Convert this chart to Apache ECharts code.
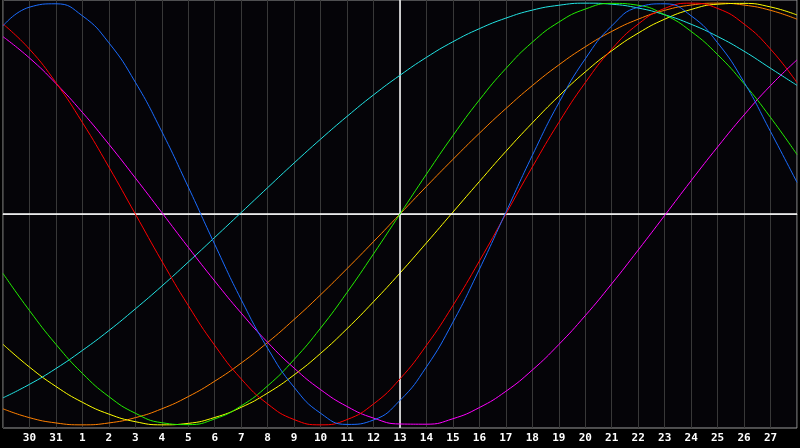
<!DOCTYPE html>
<html>
<head>
<meta charset="utf-8">
<script src="https://cdn.jsdelivr.net/npm/echarts@6/dist/echarts.min.js"></script>
<style>
html,body{margin:0;padding:0;background:#000;}
#chart{width:800px;height:448px;}
</style>
</head>
<body>
<div id="chart"></div>
<script>
// Day labels (first and last are at the plot edges and not labelled)
var days = ['29','30','31','1','2','3','4','5','6','7','8','9','10','11','12','13','14','15','16','17','18','19','20','21','22','23','24','25','26','27','28'];
var today = '13';

// Cycle values (-100..100) read at each day
var physical = [89.2,98.1,99.7,94.0,81.2,62.5,39.1,12.8,-14.4,-40.6,-63.7,-82.2,-94.5,-99.8,-97.7,-88.4,-72.5,-51.3,-26.2,0.8,27.8,52.7,73.6,89.2,98.1,99.7,94.0,81.2,62.5,39.1,15.0];
var emotional = [90.1,78.2,62.3,43.4,22.3,0,-22.3,-43.4,-62.3,-78.2,-90.1,-97.5,-100,-97.5,-90.1,-78.2,-62.3,-43.4,-22.3,0,22.3,43.4,62.3,78.2,90.1,97.5,100,97.5,90.1,78.2,62.3];
var intuitive = [84.1,74.0,61.9,48.2,33.1,17.1,0.7,-15.8,-31.8,-47.0,-60.9,-73.1,-83.3,-91.3,-96.8,-99.6,-99.7,-97.1,-91.8,-84.1,-74.0,-61.9,-48.2,-33.1,-17.1,-0.7,15.8,31.8,47.0,60.9,73.1];
var intellectual = [-28.2,-45.8,-61.8,-75.6,-86.6,-94.5,-99.0,-99.9,-97.2,-91.0,-81.5,-69.0,-54.1,-37.2,-18.9,0,18.9,37.2,54.1,69.0,81.5,91.0,97.2,99.9,99.0,94.5,86.6,75.6,61.8,45.8,28.2];
var spiritual = [-87.2,-80.8,-73.3,-64.7,-55.3,-45.0,-34.2,-22.8,-11.1,0.7,12.5,24.2,35.5,46.3,56.5,65.8,74.3,81.7,87.9,92.9,96.7,99.0,100,99.5,97.7,94.5,90.0,84.2,77.2,69.1,61.0];
var awareness = [-92.4,-96.6,-99.1,-100,-99.1,-96.6,-92.4,-86.6,-79.3,-70.7,-60.9,-50,-38.3,-25.9,-13.1,0,13.1,25.9,38.3,50,60.9,70.7,79.3,86.6,92.4,96.6,99.1,100,99.1,96.6,92.4];
var aesthetic = [-61.8,-72.6,-81.8,-89.3,-94.9,-98.5,-100,-99.3,-96.5,-91.7,-84.9,-76.3,-66.1,-54.4,-41.6,-28.0,-13.7,0.9,15.4,29.7,43.2,55.9,67.4,77.4,85.8,92.4,97.0,99.5,99.9,98.2,94.4];

var seriesDefs = [
  {name:'Awareness', data: awareness, color:'#ff8000'},
  {name:'Aesthetic', data: aesthetic, color:'#ffff00'},
  {name:'Spiritual', data: spiritual, color:'#22e4e4'},
  {name:'Intuitive', data: intuitive, color:'#ff00ff'},
  {name:'Intellectual', data: intellectual, color:'#22ee00'},
  {name:'Emotional', data: emotional, color:'#ff0000'},
  {name:'Physical', data: physical, color:'#1a6cff'}
];

var chart = echarts.init(document.getElementById('chart'), null, {renderer:'canvas'});
var series = seriesDefs.map(function(s, i){
  return {
    name: s.name,
    type: 'line',
    data: s.data,
    smooth: true,
    showSymbol: false,
    symbol: 'none',
    silent: true,
    lineStyle: {color: s.color, width: 1},
    itemStyle: {color: s.color},
    z: 3 + i
  };
});
// Today and zero reference lines
series.push({
  type: 'line',
  data: [],
  silent: true,
  z: 2,
  markLine: {
    silent: true,
    symbol: ['none','none'],
    label: {show: false},
    lineStyle: {color:'#ffffff', width: 1.5, type:'solid'},
    data: [{yAxis: 0}, {xAxis: today}]
  }
});

chart.setOption({
  animation: false,
  backgroundColor: '#000000',
  grid: {
    left: 0, right: 0, top: 0, bottom: 20,
    show: true,
    backgroundColor: '#050408',
    borderColor: '#9a9a9a',
    borderWidth: 1
  },
  xAxis: {
    type: 'category',
    data: days,
    boundaryGap: false,
    axisLine: {show: true, lineStyle: {color:'#aaaaaa', width: 1}},
    axisTick: {show: false},
    splitLine: {show: true, interval: 0, lineStyle: {color:'#383838', width: 1}},
    axisLabel: {
      interval: 0,
      color: '#ffffff',
      fontFamily: 'DejaVu Sans Mono',
      fontWeight: 'bold',
      fontSize: 11,
      margin: 5,
      formatter: function(v, idx){ return (idx === 0 || idx === days.length - 1) ? '' : v; }
    }
  },
  yAxis: {
    type: 'value',
    min: -101.5,
    max: 101.5,
    show: false,
    splitLine: {show: false}
  },
  series: series
});
</script>
</body>
</html>
